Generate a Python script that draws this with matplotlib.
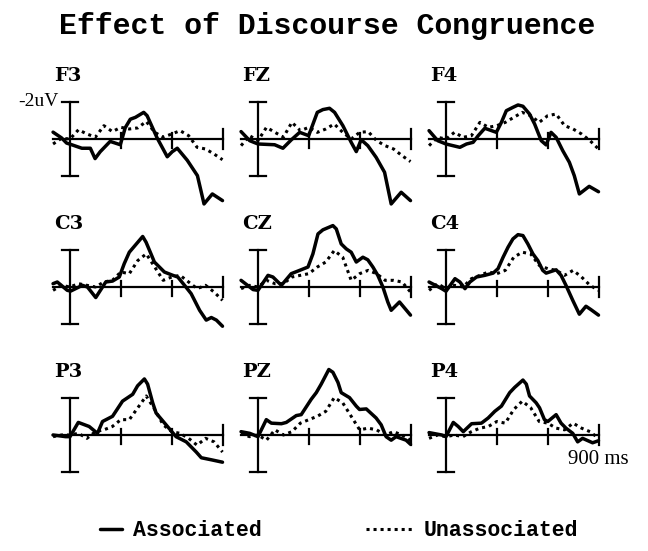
import matplotlib
matplotlib.use('Agg')
import matplotlib.pyplot as plt

plt.rcParams['font.family'] = ['DejaVu Serif']

# time axis (ms) of the dotted (Unassociated) traces
times = list(range(-100, 901, 50))

electrodes = [['F3', 'FZ', 'F4'],
              ['C3', 'CZ', 'C4'],
              ['P3', 'PZ', 'P4']]

# ---- Associated (solid) traces: time points (ms) and voltages (uV, negative up) ----
F3_assoc_t = [-100, -50, -20, 10, 70, 120, 148, 178, 237, 297, 326, 356, 386, 435, 455, 514, 574, 603, 633, 692, 752, 791, 840, 900]
F3_assoc = [-0.37, -0.06, 0.22, 0.31, 0.5, 0.5, 1.06, 0.69, 0.13, 0.31, -0.61, -1.07, -1.17, -1.44, -1.26, -0.06, 0.96, 0.69, 0.5, 1.15, 1.98, 3.51, 2.97, 3.33]
FZ_assoc_t = [-100, -49, 0, 98, 147, 196, 246, 299, 350, 383, 422, 452, 501, 550, 580, 609, 648, 697, 747, 786, 845, 900]
FZ_assoc = [-0.4, 0.09, 0.27, 0.31, 0.5, 0.05, -0.36, -0.18, -1.44, -1.59, -1.66, -1.44, -0.72, 0.18, 0.68, 0.04, 0.36, 0.99, 1.8, 3.51, 2.88, 3.33]
F4_assoc_t = [-100, -49, 0, 82, 121, 160, 190, 229, 297, 327, 356, 395, 425, 454, 493, 523, 562, 591, 620, 650, 689, 728, 757, 787, 845, 900]
F4_assoc = [-0.45, 0.09, 0.27, 0.45, 0.27, 0.18, -0.18, -0.58, -0.36, -0.9, -1.53, -1.71, -1.84, -1.77, -1.35, -0.81, 0.09, 0.32, -0.36, -0.09, 0.63, 1.26, 1.98, 2.97, 2.56, 2.85]
C3_assoc_t = [-100, -75, -16, 4, 73, 103, 152, 211, 251, 291, 320, 350, 389, 429, 449, 478, 498, 557, 607, 636, 676, 715, 765, 804, 834, 864, 900]
C3_assoc = [-0.18, -0.27, 0.18, 0.22, -0.09, 0.0, 0.57, -0.27, -0.32, -0.54, -1.26, -1.88, -2.3, -2.73, -2.42, -1.79, -1.35, -0.81, -0.63, -0.54, -0.09, 0.36, 1.26, 1.79, 1.65, 1.79, 2.12]
CZ_assoc_t = [-100, -29, 0, 59, 88, 138, 196, 246, 295, 324, 354, 383, 442, 462, 491, 521, 550, 580, 619, 648, 678, 707, 737, 766, 786, 835, 900]
CZ_assoc = [-0.36, 0.14, 0.18, -0.63, -0.54, -0.09, -0.72, -0.9, -1.08, -1.79, -2.87, -3.09, -3.32, -3.14, -2.33, -2.06, -1.88, -1.35, -1.61, -1.47, -1.08, -0.63, 0.0, 0.81, 1.26, 0.81, 1.52]
C4_assoc_t = [-100, -25, 0, 53, 82, 112, 141, 180, 229, 278, 307, 337, 366, 395, 425, 454, 483, 513, 542, 571, 591, 650, 679, 708, 748, 787, 826, 855, 900]
C4_assoc = [-0.27, 0.09, 0.23, -0.45, -0.27, 0.09, -0.27, -0.54, -0.63, -0.75, -0.99, -1.61, -2.15, -2.6, -2.83, -2.78, -2.33, -1.79, -1.43, -0.9, -0.75, -0.93, -0.63, -0.09, 0.72, 1.47, 1.04, 1.22, 1.52]
P3_assoc_t = [-100, -26, 0, 49, 113, 162, 192, 251, 310, 370, 399, 439, 458, 488, 508, 567, 626, 686, 745, 775, 834, 900]
P3_assoc = [0.0, 0.09, 0.09, -0.68, -0.46, -0.09, -0.73, -1.01, -1.83, -2.2, -2.66, -3.03, -2.75, -1.74, -1.19, -0.55, 0.09, 0.37, 0.92, 1.23, 1.34, 1.47]
PZ_assoc_t = [-100, -49, 0, 49, 79, 138, 167, 226, 255, 314, 344, 373, 418, 442, 472, 491, 540, 580, 599, 639, 697, 727, 756, 786, 815, 874, 900]
PZ_assoc = [-0.18, -0.09, 0.09, -0.83, -0.64, -0.61, -0.68, -1.05, -1.1, -1.93, -2.29, -2.75, -3.54, -3.39, -2.84, -2.29, -2.02, -1.56, -1.38, -1.41, -0.92, -0.55, 0.09, 0.28, 0.09, 0.28, 0.5]
P4_assoc_t = [-100, -25, 0, 43, 72, 102, 151, 209, 249, 288, 327, 376, 405, 454, 474, 493, 532, 552, 581, 601, 650, 679, 708, 748, 777, 806, 865, 900]
P4_assoc = [-0.13, 0.0, 0.09, -0.68, -0.46, -0.18, -0.61, -0.64, -0.92, -1.28, -1.56, -2.29, -2.57, -2.97, -2.75, -2.11, -1.74, -1.47, -0.83, -0.73, -1.1, -0.64, -0.37, -0.09, 0.37, 0.18, 0.42, 0.31]

# ---- Unassociated (dotted) traces on the 50 ms grid ----
F3_unassoc = [0.27, -0.04, 0.0, -0.5, -0.27, -0.1, -0.72, -0.4, -0.63, -0.54, -0.6, -0.95, -0.36, -0.1, -0.27, -0.45, -0.18, 0.45, 0.54, 0.81, 1.12]
FZ_unassoc = [0.36, -0.18, 0.09, -0.63, -0.36, -0.1, -0.9, -0.45, -0.63, -0.36, -0.54, -0.81, -0.36, 0.0, -0.36, -0.4, 0.09, 0.36, 0.54, 0.9, 1.22]
F4_unassoc = [0.36, -0.09, 0.0, -0.36, -0.09, -0.18, -0.9, -0.63, -0.72, -0.9, -1.17, -1.44, -1.26, -0.9, -1.26, -1.35, -0.72, -0.54, -0.27, 0.09, 0.54]
C3_unassoc = [0.18, -0.09, 0.0, -0.18, -0.09, 0.0, -0.27, -0.36, -0.81, -0.72, -1.43, -1.79, -1.08, -0.36, -0.54, -0.63, -0.27, 0.09, -0.09, 0.27, 0.72]
CZ_unassoc = [0.09, -0.09, 0.0, -0.36, -0.18, -0.18, -0.54, -0.63, -0.72, -1.08, -1.35, -1.97, -1.61, -0.36, -0.72, -0.9, -0.72, -0.36, -0.36, -0.27, 0.27]
C4_unassoc = [0.18, -0.18, 0.09, -0.09, 0.0, -0.45, -0.63, -0.81, -0.72, -0.9, -1.61, -1.88, -1.79, -1.17, -0.99, -0.9, -0.63, -0.9, -0.54, -0.09, 0.18]
P3_unassoc = [0.09, 0.0, 0.0, -0.09, 0.18, -0.18, -0.28, -0.46, -0.83, -0.83, -1.47, -2.11, -1.38, -0.55, -0.18, -0.09, 0.18, 0.55, 0.18, 0.37, 0.92]
PZ_unassoc = [-0.09, 0.09, 0.0, 0.28, -0.28, 0.0, -0.18, -0.64, -0.83, -1.01, -1.28, -2.02, -1.74, -1.01, -0.28, -0.37, -0.28, 0.0, -0.18, 0.0, 0.28]
P4_unassoc = [0.18, 0.0, 0.09, 0.0, 0.09, -0.18, -0.37, -0.46, -0.73, -0.64, -1.38, -1.83, -1.47, -0.73, -0.64, -0.37, -0.28, -0.64, -0.37, -0.18, 0.18]

assoc = {'F3': (F3_assoc_t, F3_assoc), 'FZ': (FZ_assoc_t, FZ_assoc), 'F4': (F4_assoc_t, F4_assoc),
         'C3': (C3_assoc_t, C3_assoc), 'CZ': (CZ_assoc_t, CZ_assoc), 'C4': (C4_assoc_t, C4_assoc),
         'P3': (P3_assoc_t, P3_assoc), 'PZ': (PZ_assoc_t, PZ_assoc), 'P4': (P4_assoc_t, P4_assoc)}
unassoc = {'F3': F3_unassoc, 'FZ': FZ_unassoc, 'F4': F4_unassoc,
           'C3': C3_unassoc, 'CZ': CZ_unassoc, 'C4': C4_unassoc,
           'P3': P3_unassoc, 'PZ': PZ_unassoc, 'P4': P4_unassoc}

title = 'Effect of Discourse Congruence'
legend_labels = ['Associated', 'Unassociated']

# ---------------- layout ----------------
W, H = 648, 551
fig = plt.figure(figsize=(W / 100, H / 100), dpi=100)
fig.patch.set_facecolor('white')

col_zero_px = [70, 258, 446]
row_base_px = [139, 287, 435]
px_per_ms = 152.5 / 900
px_per_uv = 18.5
XL = (-130, 930)
YT, YB = -3.9, 4.3

AX_LW = 1.6
dot_style = (0, (1, 1.3))
MONO = 'Liberation Mono'
handles = None

for r, row in enumerate(electrodes):
    for c, name in enumerate(row):
        left = col_zero_px[c] + XL[0] * px_per_ms
        width = (XL[1] - XL[0]) * px_per_ms
        top = row_base_px[r] + YT * px_per_uv
        height = (YB - YT) * px_per_uv
        ax = fig.add_axes([left / W, 1 - (top + height) / H, width / W, height / H])
        ax.set_xlim(*XL)
        ax.set_ylim(YB, YT)
        ax.axis('off')
        ax.patch.set_alpha(0)

        # custom axes (calibration bar and time line)
        ax.plot([-100, 900], [0, 0], color='black', lw=AX_LW)
        ax.plot([0, 0], [-2, 2], color='black', lw=AX_LW)
        ax.plot([-50, 50], [-2, -2], color='black', lw=AX_LW)
        ax.plot([-50, 50], [2, 2], color='black', lw=AX_LW)
        for t in (300, 600):
            ax.plot([t, t], [-0.3, 0.5], color='black', lw=AX_LW)
        ax.plot([900, 900], [-0.55, 0.55], color='black', lw=AX_LW)

        ta, va = assoc[name]
        l1, = ax.plot(ta, va, color='black', lw=2.5,
                      solid_joinstyle='round', solid_capstyle='round', clip_on=False)
        l2, = ax.plot(times, unassoc[name], color='black', lw=2.2,
                      linestyle=dot_style, clip_on=False)
        if handles is None:
            handles = (l1, l2)

        ax.text(-95, -3.42, name, fontsize=14, fontweight='bold',
                ha='left', va='center')
        if name == 'F3':
            ax.text(-68, -2.0, '-2uV', fontsize=14, family='Liberation Serif',
                    ha='right', va='center')
        if name == 'P4':
            ax.text(720, 1.3, '900 ms', fontsize=15, family='Liberation Serif',
                    ha='left', va='center')

fig.text(0.505, 1 - 34 / H, title, fontsize=21.5, family=MONO,
         fontweight='bold', ha='center', va='baseline')

fig.legend([handles[0]], [legend_labels[0]], loc='center left',
           bbox_to_anchor=(100 / W, 1 - 531 / H), frameon=False,
           prop={'family': MONO, 'weight': 'bold', 'size': 15.5},
           handlelength=1.0, handletextpad=0.55,
           borderpad=0, borderaxespad=0)
fig.legend([handles[1]], [legend_labels[1]], loc='center left',
           bbox_to_anchor=(366 / W, 1 - 531 / H), frameon=False,
           prop={'family': MONO, 'weight': 'bold', 'size': 15.5},
           handlelength=2.2, handletextpad=0.5,
           borderpad=0, borderaxespad=0)

fig.savefig('out.png', dpi=100, facecolor='white')
